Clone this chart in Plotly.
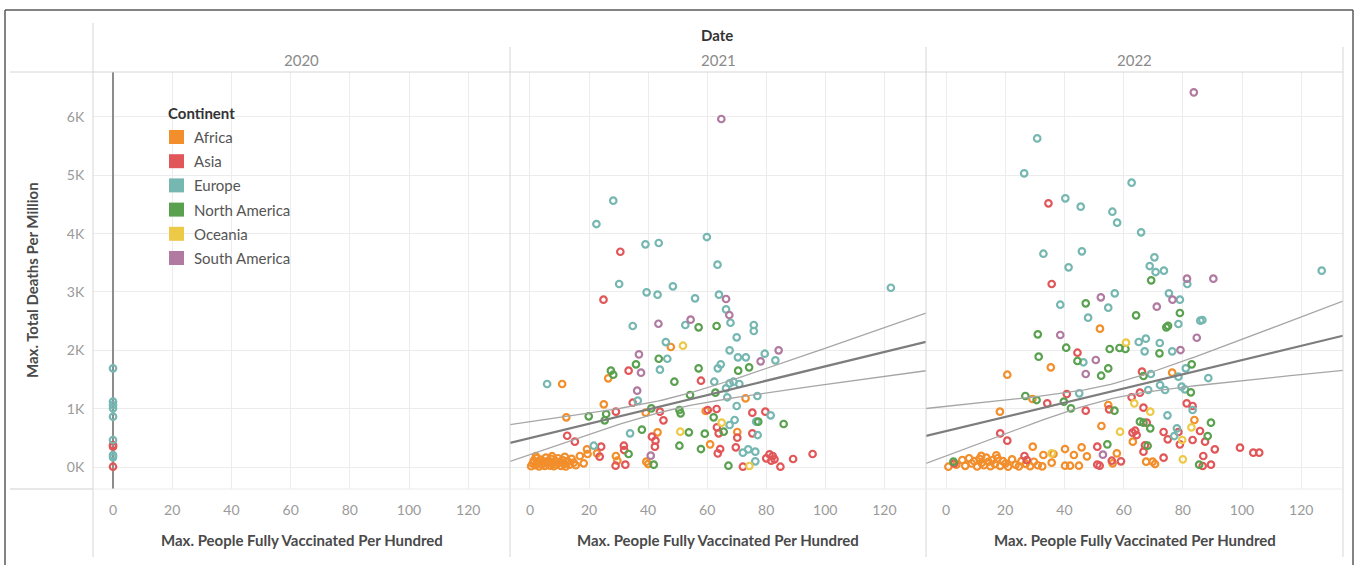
import plotly.graph_objects as go

# ---------------- data ----------------
continents = ["Africa", "Asia", "Europe", "North America", "Oceania", "South America"]
colors = ["#F28E2B", "#E15759", "#76B7B2", "#59A14F", "#EDC948", "#B07AA1"]
years = ["2020", "2021", "2022"]
x_ticks = [0, 20, 40, 60, 80, 100, 120]
y_ticks = [0, 1000, 2000, 3000, 4000, 5000, 6000]
y_tick_text = ["0K", "1K", "2K", "3K", "4K", "5K", "6K"]

# 2020: every country still at 0 % fully vaccinated
eu_2020 = [(0, 1692), (0, 1120), (0, 1063), (0, 1006), (0, 863), (0, 463), (0, 206), (0, 166)]
as_2020 = [(0, 377), (0, 348), (0, 5)]

# 2021 (x = people fully vaccinated per hundred, y = total deaths per million)
af_2021 = [(47.7, 2057), (26.5, 1520), (10.9, 1423), (73.0, 1177), (25.0, 1074), (12.3, 852), (39.2, 931),
           (59.5, 960), (70.2, 600), (43.2, 594), (61.0, 388), (19.3, 303), (18.2, 63), (16.9, 189),
           (19.5, 223), (22.7, 234), (29.1, 189), (29.6, 108), (39.4, 91), (40.0, 51),
           (0.4, 15), (0.9, 60), (1.3, 110), (1.8, 30), (2.2, 150), (2.7, 80), (3.1, 10), (3.6, 125),
           (4.0, 45), (4.5, 95), (5.0, 20), (5.4, 160), (5.9, 60), (6.3, 110), (6.8, 25), (7.2, 140),
           (7.7, 70), (8.1, 15), (8.6, 105), (9.0, 45), (9.5, 150), (10.0, 80), (10.5, 20), (11.0, 120),
           (11.5, 55), (12.1, 10), (12.7, 100), (13.4, 40), (14.1, 140), (14.8, 75), (2.0, 185),
           (7.5, 185), (11.8, 175), (15.5, 30)]
as_2021 = [(30.6, 3690), (24.9, 2868), (33.4, 1651), (57.9, 1479), (34.8, 1102), (29.1, 948), (44.0, 948),
           (45.2, 800), (60.2, 977), (63.2, 994), (75.3, 931), (79.7, 948), (63.3, 680), (63.9, 577),
           (70.2, 503), (75.3, 577), (41.3, 520), (42.5, 451), (42.3, 348), (64.4, 308), (63.6, 234),
           (69.7, 337), (72.1, 5), (80.0, 149), (81.1, 218), (82.2, 189), (82.8, 132), (81.7, 108),
           (84.8, 5), (89.1, 137), (95.7, 223), (12.6, 536), (15.2, 434), (24.1, 348), (23.6, 177),
           (31.8, 365), (31.9, 291), (29.0, 22), (32.3, 40)]
eu_2021 = [(28.2, 4565), (22.5, 4165), (59.9, 3942), (39.1, 3817), (43.6, 3840), (63.5, 3468), (30.2, 3137),
           (39.5, 2994), (43.2, 2954), (48.4, 3097), (55.9, 2891), (64.0, 2954), (122.2, 3073), (66.4, 2702),
           (67.9, 2473), (52.6, 2434), (34.8, 2417), (75.8, 2434), (75.8, 2331), (70.0, 2223), (46.0, 2142),
           (67.6, 2000), (46.5, 1856), (70.4, 1880), (73.1, 1880), (79.5, 1942), (83.1, 1829), (44.0, 1668),
           (63.6, 1692), (64.6, 1760), (5.8, 1423), (62.4, 1462), (67.6, 1434), (68.9, 1462), (70.9, 1423),
           (66.4, 1348), (36.5, 1137), (66.8, 1195), (77.0, 1217), (70.0, 1046), (81.5, 886), (69.3, 806),
           (67.6, 720), (76.6, 777), (77.1, 548), (33.9, 577), (72.1, 246), (73.9, 303), (76.3, 263),
           (76.3, 97), (21.6, 365)]
na_2021 = [(57.1, 2394), (63.2, 2417), (43.6, 1856), (35.9, 1760), (27.4, 1651), (28.2, 1582), (57.1, 1692),
           (70.5, 1651), (74.2, 1709), (48.9, 1462), (54.2, 1234), (62.8, 1274), (41.1, 1006), (25.8, 908),
           (19.9, 869), (25.3, 800), (50.6, 977), (51.0, 920), (62.2, 852), (65.6, 605), (77.3, 777),
           (85.9, 737), (37.9, 640), (53.8, 594), (59.2, 571), (50.6, 365), (57.9, 308), (67.2, 22),
           (33.4, 223), (41.9, 40)]
oc_2021 = [(51.8, 2079), (64.9, 760), (50.9, 605), (74.3, 17)]
sa_2021 = [(64.8, 5965), (66.4, 2880), (67.5, 2605), (54.4, 2525), (43.5, 2456), (36.9, 1931), (84.2, 2000),
           (78.1, 1812), (37.6, 1617), (36.3, 1308), (40.9, 194)]

# 2022
af_2022 = [(52.0, 2371), (35.4, 1709), (20.7, 1582), (76.4, 1617), (29.2, 1166), (54.8, 1063), (83.9, 806),
           (52.5, 703), (63.1, 434), (67.6, 91), (69.8, 91), (70.6, 51), (18.2, 948), (29.3, 348),
           (32.9, 206), (36.3, 223), (35.7, 74), (40.2, 308), (43.2, 206), (45.8, 337), (47.6, 183),
           (40.2, 22), (41.9, 22), (44.9, 22), (56.3, 63), (57.7, 234),
           (0.8, 5), (3.5, 40), (5.5, 120), (6.5, 20), (7.8, 150), (8.7, 60), (9.5, 100), (10.5, 10),
           (11.3, 140), (12.0, 70), (12.8, 30), (13.6, 160), (14.3, 90), (15.0, 15), (15.8, 120),
           (16.5, 50), (17.4, 150), (18.3, 20), (19.2, 100), (20.1, 60), (21.0, 5), (22.3, 130),
           (23.5, 40), (24.6, 10), (25.5, 100), (26.9, 55), (28.4, 15), (29.7, 90), (31.0, 30),
           (32.5, 10), (11.9, 190), (17.0, 200)]
as_2022 = [(34.6, 4520), (35.7, 3137), (44.4, 1959), (66.2, 1634), (65.5, 1274), (62.7, 1195), (40.8, 1251),
           (34.2, 1091), (47.2, 966), (55.1, 989), (66.7, 1017), (81.3, 1091), (83.3, 1046), (85.8, 617),
           (87.5, 434), (90.8, 303), (86.9, 189), (86.7, 17), (89.5, 40), (99.3, 331), (103.8, 246),
           (105.8, 246), (67.8, 760), (63.0, 588), (64.4, 548), (63.9, 622), (67.2, 371), (66.7, 263),
           (73.5, 600), (74.9, 474), (78.5, 600), (79.0, 388), (83.3, 463), (73.5, 160), (18.3, 577),
           (20.7, 451), (51.1, 348), (51.1, 40), (51.9, 22), (56.0, 108), (59.1, 97), (26.5, 189),
           (27.3, 120), (2.8, 60)]
eu_2022 = [(30.8, 5633), (26.4, 5034), (62.7, 4874), (40.3, 4606), (45.5, 4462), (56.2, 4376), (57.8, 4188),
           (65.9, 4023), (32.9, 3656), (45.9, 3697), (41.4, 3423), (70.4, 3594), (68.8, 3445), (70.8, 3342),
           (73.6, 3365), (81.5, 3137), (126.9, 3365), (57.0, 2977), (38.6, 2782), (54.8, 2731), (75.3, 2977),
           (79.0, 2868), (48.0, 2560), (78.5, 2451), (85.9, 2508), (86.6, 2520), (46.4, 1795), (65.1, 2143),
           (67.5, 2200), (67.1, 1983), (72.2, 2126), (76.4, 1983), (81.0, 1692), (88.6, 1525), (69.2, 1594),
           (78.5, 1548), (72.3, 1405), (74.0, 1320), (79.6, 1377), (80.7, 1332), (68.3, 1320), (45.0, 1263),
           (74.8, 886), (83.3, 977), (77.1, 531), (78.0, 663)]
na_2022 = [(69.3, 3200), (47.2, 2806), (64.2, 2600), (79.0, 2640), (74.4, 2394), (75.0, 2420), (31.0, 2274),
           (31.3, 1891), (40.6, 2045), (44.4, 1817), (52.4, 1565), (54.8, 1692), (55.3, 2023), (58.6, 2040),
           (60.6, 2023), (72.1, 1949), (83.0, 1760), (66.7, 1560), (82.7, 1280), (26.8, 1217), (30.6, 1148),
           (39.8, 1120), (42.2, 1006), (56.9, 966), (89.5, 760), (88.4, 531), (85.5, 40), (65.5, 777),
           (66.7, 760), (69.0, 663), (68.1, 365), (54.5, 388), (2.5, 91)]
oc_2022 = [(60.8, 2131), (63.6, 1091), (69.0, 948), (82.9, 680), (58.8, 605), (79.8, 463), (80.0, 131),
           (35.7, 234)]
sa_2022 = [(83.7, 6422), (81.4, 3228), (90.3, 3228), (52.3, 2909), (76.5, 2868), (71.2, 2748), (38.6, 2263),
           (50.6, 1834), (47.2, 1594), (79.2, 2005), (84.7, 2216), (53.0, 211)]

# linear trend lines with confidence bands
trend_years = ["2021", "2022"]
trend_intercept = [495, 614]
trend_slope = [12.3, 12.2]
band_center_x = [47, 55]
band_min_half = [100, 125]
band_spread = [18, 17]

# ---------------- layout geometry ----------------
W, H = 1360, 565
X_RANGE = [-6.76, 134.1]
Y_RANGE = [-377, 6771]
panel_px = [(93, 510), (510, 926), (926, 1343)]
plot_top, plot_bottom = 72, 489
FONT = "Lato"


def px(x):
    return x / W


def py(y):
    return 1 - y / H


fig = go.Figure()

points = {
    "2020": [[], as_2020, eu_2020, [], [], []],
    "2021": [af_2021, as_2021, eu_2021, na_2021, oc_2021, sa_2021],
    "2022": [af_2022, as_2022, eu_2022, na_2022, oc_2022, sa_2022],
}

for i, yr in enumerate(years):
    xa = "x" if i == 0 else f"x{i + 1}"
    ya = "y" if i == 0 else f"y{i + 1}"
    sets = points[yr]
    if yr == "2020":
        # all countries sit at x = 0, so the trend degenerates to a vertical line
        fig.add_trace(go.Scatter(x=[0, 0], y=Y_RANGE, mode="lines", xaxis=xa, yaxis=ya,
                                 line=dict(color="#8c8c8c", width=2), showlegend=False, hoverinfo="skip"))
    for c, (name, col) in enumerate(zip(continents, colors)):
        pts = sets[c]
        if not pts:
            continue
        fig.add_trace(go.Scatter(
            x=[p[0] for p in pts], y=[p[1] for p in pts], mode="markers", name=name,
            xaxis=xa, yaxis=ya, showlegend=False,
            marker=dict(symbol="circle-open", size=6.5, color=col, line=dict(width=2.2, color=col)),
        ))

# trend lines
for j, yr in enumerate(trend_years):
    i = years.index(yr)
    xa, ya = f"x{i + 1}", f"y{i + 1}"
    n = 80
    xs = [X_RANGE[0] + (X_RANGE[1] - X_RANGE[0]) * k / (n - 1) for k in range(n)]
    mid = [trend_intercept[j] + trend_slope[j] * x for x in xs]
    half = [band_min_half[j] * (1 + ((x - band_center_x[j]) / band_spread[j]) ** 2) ** 0.5 for x in xs]
    for sign in (1, -1):
        fig.add_trace(go.Scatter(x=xs, y=[m + sign * h for m, h in zip(mid, half)], mode="lines",
                                 xaxis=xa, yaxis=ya, line=dict(color="#a6a6a6", width=1.3),
                                 showlegend=False, hoverinfo="skip"))
    fig.add_trace(go.Scatter(x=xs, y=mid, mode="lines", xaxis=xa, yaxis=ya,
                             line=dict(color="#7d7d7d", width=2.2), showlegend=False, hoverinfo="skip"))

layout = dict(
    width=W, height=H, autosize=False, margin=dict(l=0, r=0, t=0, b=0),
    paper_bgcolor="white", plot_bgcolor="white", showlegend=False,
    font=dict(family=FONT, color="#555"),
)
ydom = [py(plot_bottom), py(plot_top)]
for i, (a, b) in enumerate(panel_px):
    sx = "" if i == 0 else str(i + 1)
    layout[f"xaxis{sx}"] = dict(
        domain=[px(a), px(b)], range=X_RANGE, anchor=f"y{sx}", tickvals=x_ticks,
        showgrid=True, gridcolor="#ececec", gridwidth=1, zeroline=False, showline=False,
        ticks="outside", ticklen=8, tickcolor="rgba(0,0,0,0)",
        tickfont=dict(family=FONT, size=14, color="#9a9a9a"), fixedrange=True,
    )
    layout[f"yaxis{sx}"] = dict(
        domain=ydom, range=Y_RANGE, anchor=f"x{sx}", tickvals=y_ticks, ticktext=y_tick_text,
        showticklabels=(i == 0), showgrid=True, gridcolor="#ececec", gridwidth=1,
        zeroline=False, showline=False, ticks="outside" if i == 0 else "", ticklen=5,
        tickcolor="rgba(0,0,0,0)", tickfont=dict(family=FONT, size=14, color="#9a9a9a"), fixedrange=True,
    )
fig.update_layout(**layout)

shapes = []


def seg(x0, y0, x1, y1, color, width=1):
    shapes.append(dict(type="line", xref="paper", yref="paper", x0=px(x0), y0=py(y0), x1=px(x1), y1=py(y1),
                       line=dict(color=color, width=width), layer="above"))


# frame and header separators
seg(5, 10, 1353, 10, "#5a5a5a", 1.5)
seg(5, 10, 5, 565, "#5a5a5a", 1.5)
seg(1353, 10, 1353, 565, "#5a5a5a", 1.5)
seg(10, 72, 1343, 72, "#d6d6d6", 1)
seg(93, 23, 93, 557, "#d6d6d6", 1)
for xv in (510, 926, 1343):
    seg(xv, 47, xv, 557, "#d6d6d6", 1)
seg(10, 489, 93, 489, "#cfcfcf", 1)
seg(93, 489, 1343, 489, "#ebebeb", 1)


def note(text, x, y, size=13, color="#555", xanchor="center", angle=0):
    return dict(text=text, x=px(x), y=py(y), xref="paper", yref="paper", xanchor=xanchor,
                yanchor="middle", showarrow=False, textangle=angle,
                font=dict(family=FONT, size=size, color=color))


annotations = [note("<b>Date</b>", 717, 35, 15, "#333")]
for (a, b), yr in zip(panel_px, years):
    annotations.append(note(yr, (a + b) / 2, 60, 15, "#8a8a8a"))
    annotations.append(note("<b>Max. People Fully Vaccinated Per Hundred</b>", (a + b) / 2, 540, 15, "#4a4a4a"))
annotations.append(note("<b>Max. Total Deaths Per Million</b>", 32, 280, 15, "#4a4a4a", angle=-90))

# legend
annotations.append(note("<b>Continent</b>", 166, 113, 15, "#333", xanchor="left"))
for k, (name, col) in enumerate(zip(continents, colors)):
    cy = 137 + 24.2 * k
    shapes.append(dict(type="rect", xref="paper", yref="paper", x0=px(169), x1=px(184),
                       y0=py(cy + 7), y1=py(cy - 7), fillcolor=col, line=dict(width=0), layer="above"))
    annotations.append(note(name, 192, cy, 15, "#555", xanchor="left"))

fig.update_layout(shapes=shapes, annotations=annotations)
fig.write_html("out.html")
